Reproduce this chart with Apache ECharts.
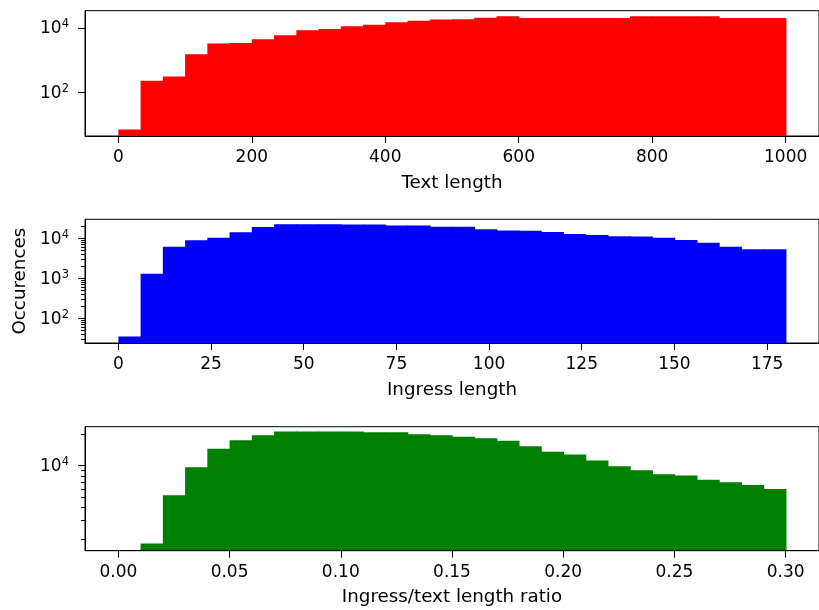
<!DOCTYPE html>
<html>
<head>
<meta charset="utf-8">
<title>Length histograms</title>
<script src="https://cdn.jsdelivr.net/npm/echarts@6/dist/echarts.min.js"></script>
<style>
  html, body { margin: 0; padding: 0; background: #fff; }
  #main { width: 819px; height: 610px; }
</style>
</head>
<body>
<div id="main"></div>
<script>
var textCounts = [7, 230, 310, 1520, 3300, 3400, 4450, 5900, 8450, 9300,
  11300, 12700, 15000, 16900, 18500, 18700, 20900, 23100, 20400, 20300,
  20500, 20400, 20300, 23100, 23000, 23200, 23000, 20400, 20300, 20400];
var ingressCounts = [35, 1300, 6170, 8900, 10400, 14100, 19200, 22400, 22500, 22400,
  22300, 22300, 21000, 20900, 19600, 19500, 16800, 15600, 15400, 14400,
  12800, 12100, 11300, 11100, 10400, 9100, 7800, 6170, 5300, 5300];
var ratioCounts = [0, 1820, 5220, 9660, 14500, 17500, 19500, 21200, 21200, 21200,
  21100, 20800, 20800, 19900, 19500, 18900, 18200, 17300, 15300, 13600,
  12800, 11200, 9870, 9040, 8280, 8040, 7360, 6950, 6550, 6000];

var textTicks = [0, 200, 400, 600, 800, 1000];
var ingressTicks = [0, 25, 50, 75, 100, 125, 150, 175];
var ratioTicks = [0, 0.05, 0.1, 0.15, 0.2, 0.25, 0.3];

var textLogTicks = [100, 10000];
var ingressLogTicks = [100, 1000, 10000];
var ratioLogTicks = [10000];
var ingressMinor = [30, 40, 50, 60, 70, 80, 90, 200, 300, 400, 500, 600, 700, 800, 900,
  2000, 3000, 4000, 5000, 6000, 7000, 8000, 9000, 20000];
var ratioMinor = [2000, 3000, 4000, 5000, 6000, 7000, 8000, 9000, 20000];

var panels = [
  { counts: textCounts, lo: 0, hi: 1000, xmin: -50, xmax: 1050, ticks: textTicks, digits: 0,
    ymin: 4.43, ymax: 34400, logTicks: textLogTicks, minor: [], color: '#ff0000',
    name: 'Text length', top: 10.7, height: 125.3 },
  { counts: ingressCounts, lo: 0, hi: 180, xmin: -9, xmax: 189, ticks: ingressTicks, digits: 0,
    ymin: 24.1, ymax: 29900, logTicks: ingressLogTicks, minor: ingressMinor, color: '#0000ff',
    name: 'Ingress length', top: 219.3, height: 123.7 },
  { counts: ratioCounts, lo: 0, hi: 0.3, xmin: -0.015, xmax: 0.315, ticks: ratioTicks, digits: 2,
    ymin: 1550, ymax: 23500, logTicks: ratioLogTicks, minor: ratioMinor, color: '#008000',
    name: 'Ingress/text length ratio', top: 426.7, height: 124 }
];

function makeBars(lo, hi, counts) {
  var w = (hi - lo) / counts.length;
  return counts.map(function (c, i) {
    return [lo + i * w, lo + (i + 1) * w, c];
  });
}

function barRenderer(color, floor) {
  return function (params, api) {
    if (api.value(2) <= 0) return null;
    var a = api.coord([api.value(0), api.value(2)]);
    var b = api.coord([api.value(1), floor]);
    return {
      type: 'rect',
      shape: { x: a[0], y: a[1], width: b[0] - a[0] + 0.8, height: b[1] - a[1] },
      style: { fill: color }
    };
  };
}

var grids = [], xAxes = [], yAxes = [], series = [];
panels.forEach(function (p, i) {
  grids.push({
    left: 85, top: p.top, width: 734, height: p.height,
    show: true, borderColor: '#000', borderWidth: 1, backgroundColor: 'transparent'
  });
  xAxes.push({
    type: 'value', gridIndex: i, min: p.xmin, max: p.xmax, z: 5,
    name: p.name, nameLocation: 'middle', nameGap: 38,
    nameTextStyle: { fontSize: 18.3, color: '#000', fontFamily: 'DejaVu Sans' },
    splitLine: { show: false },
    axisLine: { show: true, onZero: false, lineStyle: { color: '#000', width: 1 } },
    axisTick: { show: true, length: 7, customValues: p.ticks, lineStyle: { color: '#000' } },
    axisLabel: {
      customValues: p.ticks, margin: 13, fontSize: 17, color: '#000', fontFamily: 'DejaVu Sans',
      formatter: (function (d) { return function (v) { return v.toFixed(d); }; })(p.digits)
    }
  });
  // major log ticks with labels
  yAxes.push({
    type: 'log', logBase: 10, gridIndex: i, position: 'left', min: p.ymin, max: p.ymax, z: 5,
    name: i === 1 ? 'Occurences' : '', nameLocation: 'middle', nameGap: 56,
    nameTextStyle: { fontSize: 18.3, color: '#000', fontFamily: 'DejaVu Sans' },
    splitLine: { show: false },
    axisLine: { show: true, onZero: false, lineStyle: { color: '#000', width: 1 } },
    axisTick: { show: true, length: 7, customValues: p.logTicks, lineStyle: { color: '#000' } },
    axisLabel: {
      customValues: p.logTicks, margin: 16,
      formatter: function (v) {
        return '{b|10}{s|' + Math.round(Math.log10(v)) + '}';
      },
      rich: {
        b: { fontSize: 17, color: '#000', fontFamily: 'DejaVu Sans', verticalAlign: 'bottom' },
        s: { fontSize: 11.5, color: '#000', fontFamily: 'DejaVu Sans', verticalAlign: 'bottom',
             padding: [0, 0, 7, 0] }
      }
    }
  });
  // minor log ticks (2..9 x 10^n)
  yAxes.push({
    type: 'log', logBase: 10, gridIndex: i, position: 'left', offset: 0,
    min: p.ymin, max: p.ymax, z: 5,
    splitLine: { show: false },
    axisLine: { show: false, onZero: false },
    axisTick: { show: p.minor.length > 0, length: 4, customValues: p.minor.length ? p.minor : [p.ymin],
                lineStyle: { color: '#000' } },
    axisLabel: { show: false }
  });
  series.push({
    type: 'custom',
    xAxisIndex: i,
    yAxisIndex: i * 2,
    clip: true,
    encode: { x: [0, 1], y: 2 },
    renderItem: barRenderer(p.color, p.ymin),
    data: makeBars(p.lo, p.hi, p.counts),
    silent: true
  });
});

var chart = echarts.init(document.getElementById('main'), null, { renderer: 'canvas' });
chart.setOption({
  animation: false,
  backgroundColor: '#fff',
  grid: grids,
  xAxis: xAxes,
  yAxis: yAxes,
  series: series
});
</script>
</body>
</html>
